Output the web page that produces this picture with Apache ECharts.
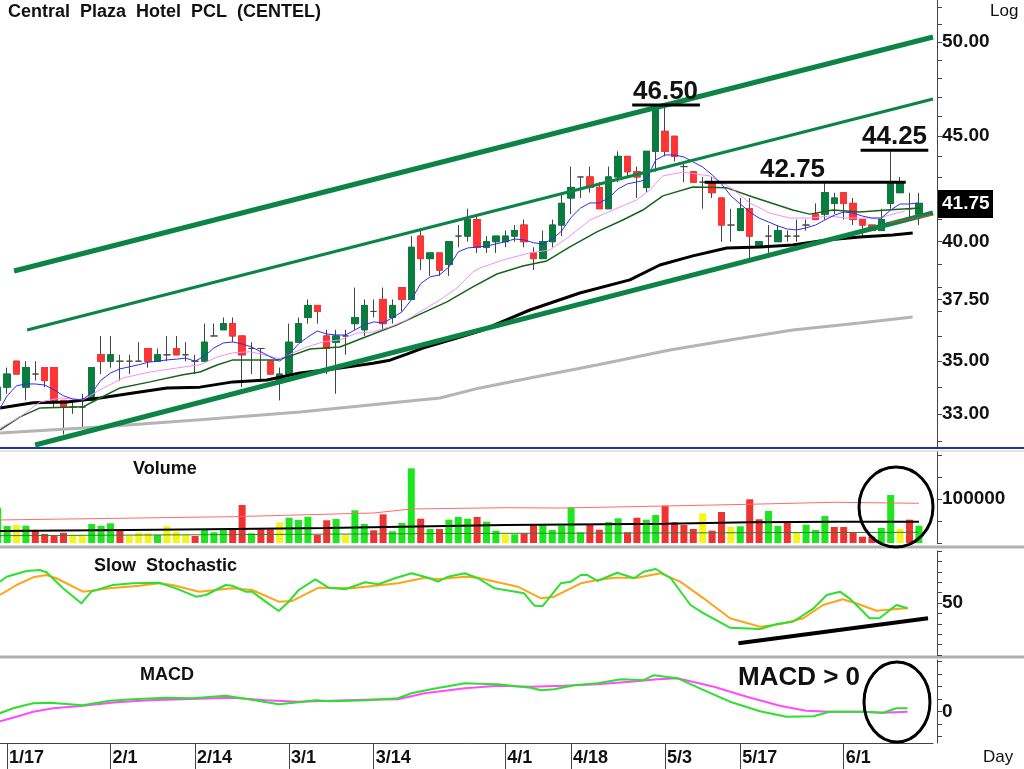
<!DOCTYPE html>
<html lang="en">
<head>
<meta charset="UTF-8">
<title>Central Plaza Hotel PCL (CENTEL)</title>
<style>
    html, body { margin: 0; padding: 0; background: #fff; }
    #chart { width: 1024px; height: 769px; }
</style>
</head>
<body>
<div id="chart"></div>
<script src="https://cdn.jsdelivr.net/npm/echarts/dist/echarts.min.js"></script>
<script>
    // daily candles (baht)
    var openP = [33.5, 34.0, 35.0, 34.0, 34.5, 34.75, 34.75, 33.5, 33.25, 33.25,
        33.5, 35.25, 35.0, 35.0, 35.0, 35.0, 35.5, 35.0, 35.25, 35.5,
        35.25, 35.0, 35.0, 36.0, 36.25, 36.5, 36.0, 35.5, 35.5, 35.0,
        34.25, 34.5, 35.75, 36.75, 37.25, 36.0, 35.75, 36.0, 36.5, 36.25,
        37.0, 37.5, 36.75, 38.0, 37.5, 40.25, 39.25, 39.5, 39.0, 40.25,
        40.25, 41.0, 39.75, 40.0, 40.0, 40.25, 40.75, 39.5, 39.25, 40.0,
        40.75, 42.0, 43.0, 43.0, 42.5, 41.5, 43.0, 44.0, 43.25, 42.5,
        44.25, 45.25, 45.0, 43.5, 43.25, 42.75, 42.75, 42.0, 40.75, 40.5,
        41.5, 39.75, 40.25, 40.0, 40.25, 40.25, 40.75, 41.25, 41.25, 41.75,
        42.25, 41.75, 41.0, 40.75, 40.5, 41.75, 42.25, 41.5, 41.25];
    var closeP = [34.0, 34.5, 34.5, 34.75, 34.5, 34.25, 33.5, 33.25, 33.25, 33.25,
        34.75, 35.0, 35.25, 35.0, 35.0, 35.0, 35.0, 35.25, 35.25, 35.25,
        35.25, 35.0, 35.75, 36.0, 36.5, 36.0, 35.25, 35.5, 35.5, 34.5,
        34.5, 35.75, 36.5, 37.25, 37.0, 35.5, 36.0, 36.0, 36.75, 37.25,
        37.0, 36.5, 37.25, 37.5, 39.75, 39.25, 39.5, 38.75, 40.0, 40.25,
        41.0, 39.75, 40.0, 40.25, 40.25, 40.5, 40.0, 39.25, 40.0, 40.75,
        41.75, 42.5, 43.0, 42.5, 41.5, 43.0, 44.0, 43.25, 43.0, 44.25,
        46.5, 44.25, 44.0, 43.5, 42.75, 42.75, 42.25, 40.75, 40.75, 41.5,
        40.25, 40.0, 40.25, 40.5, 40.25, 40.25, 40.75, 41.0, 42.25, 42.0,
        41.75, 41.0, 40.75, 40.5, 41.0, 42.75, 42.75, 41.5, 41.75];
    var lowP = [33.25, 33.75, 34.5, 33.5, 34.25, 34.0, 33.25, 32.25, 33.0, 32.5,
        33.5, 34.5, 34.75, 34.25, 34.5, 35.0, 34.75, 35.0, 35.0, 35.25,
        35.0, 34.5, 35.0, 36.0, 36.25, 35.75, 34.0, 34.5, 34.25, 34.5,
        33.5, 34.5, 35.75, 36.5, 36.5, 34.5, 33.75, 35.25, 36.25, 36.0,
        36.75, 36.25, 36.5, 37.0, 37.5, 38.75, 38.5, 38.5, 38.5, 39.75,
        40.0, 39.5, 39.5, 39.5, 39.75, 40.0, 39.75, 38.75, 39.25, 39.75,
        40.25, 41.25, 42.0, 42.25, 41.5, 41.5, 42.75, 43.0, 42.0, 42.25,
        43.25, 44.0, 43.75, 42.75, 42.75, 41.5, 42.0, 40.0, 40.0, 40.5,
        39.25, 39.75, 39.5, 40.0, 40.0, 40.0, 40.5, 41.0, 41.0, 41.25,
        41.0, 40.75, 40.25, 40.5, 40.5, 41.5, 42.25, 41.0, 40.75];
    var highP = [34.25, 34.75, 35.0, 35.0, 35.0, 34.75, 34.75, 33.5, 33.5, 33.75,
        34.75, 36.0, 36.0, 35.25, 35.25, 35.75, 35.5, 35.5, 36.0, 36.0,
        35.75, 35.25, 36.5, 36.5, 36.75, 36.75, 36.0, 35.75, 35.5, 35.0,
        34.75, 36.5, 36.75, 37.5, 37.25, 36.25, 36.25, 36.25, 38.0, 37.5,
        37.5, 38.0, 37.5, 38.0, 40.25, 40.5, 39.5, 39.5, 40.0, 40.75,
        41.5, 41.25, 40.25, 40.25, 40.5, 40.75, 41.0, 39.75, 40.5, 41.0,
        42.25, 43.5, 43.0, 43.5, 42.75, 43.5, 44.25, 44.0, 43.5, 44.25,
        46.5, 46.5, 45.0, 43.75, 43.25, 43.0, 43.0, 42.0, 41.5, 42.0,
        42.0, 40.0, 40.75, 40.75, 40.5, 41.0, 41.0, 41.75, 42.75, 42.25,
        42.25, 42.0, 41.0, 40.75, 41.5, 44.25, 43.0, 42.25, 42.25];

    var volume = [80000, 38600, 40900, 39300, 27300, 20500, 16600, 23400, 16600, 16600,
        43200, 39300, 44800, 27300, 15900, 23400, 22000, 18200, 38600, 25700,
        18200, 15900, 29500, 24300, 29500, 29500, 86400, 22000, 31100, 31100,
        47000, 57500, 52300, 59800, 18200, 51600, 54600, 18200, 74300, 43200,
        28900, 65200, 26600, 45500, 169800, 55200, 31800, 31800, 53000, 59100,
        55200, 59100, 48400, 28000, 19800, 19800, 22000, 40900, 43200, 29500,
        39300, 81100, 24300, 40900, 30200, 47700, 56100, 24300, 57500, 53000,
        63600, 84800, 47000, 40900, 31800, 67500, 28000, 70500, 36400, 38000,
        99300, 53900, 72700, 38600, 46100, 22700, 41600, 29500, 61400, 36400,
        36400, 23400, 14300, 14300, 34100, 109100, 31800, 53000, 39300];
    // g = up, r = down, y = unchanged
    var volKind = ('ggygrrrryy' + 'gggryyygyy' + 'yrgggrrgrr' + 'ygggrrgygg' + 'rrgggrgrgg' +
        'grggygrrgg' + 'gggrrggrrg' + 'grrrryrryg' + 'rrggrygggr' + 'rrrrggyrg').split('');

    // moving averages on the price panel
    var maBlue = [33.05, 33.67, 34.05, 34.12, 34.12, 34.08, 33.9, 33.67, 33.55, 33.52,
        33.78, 34.27, 34.54, 34.7, 34.78, 34.86, 34.96, 35.0, 35.05, 35.08,
        35.12, 35.0, 35.2, 35.52, 35.72, 35.76, 35.68, 35.56, 35.37, 35.17,
        35.0, 35.28, 35.68, 35.96, 36.2, 36.08, 36.04, 36.04, 36.24, 36.45,
        36.57, 36.53, 36.74, 36.98, 37.48, 38.17, 38.46, 38.54, 38.88, 39.55,
        39.72, 39.76, 39.8, 39.9, 40.0, 40.12, 40.08, 39.95, 39.9, 40.12,
        40.48, 41.1, 41.53, 41.77, 41.77, 42.0, 42.43, 42.67, 42.76, 42.86,
        43.82, 44.07, 44.07, 43.97, 43.72, 43.48, 43.1, 42.67, 42.1, 41.72,
        41.35, 41.07, 40.89, 40.71, 40.57, 40.53, 40.62, 40.75, 40.98, 41.2,
        41.35, 41.3, 41.16, 41.07, 41.07, 41.44, 41.72, 41.72, 41.77];
    var maPink = [[0.26, 32.48], [2.38, 32.89], [4.51, 33.44], [6.64, 33.59], [9.08, 33.52], [10.89, 33.9],
        [13.33, 34.35], [16.2, 34.58], [19.7, 34.77], [21.52, 34.86], [23.33, 35.16], [25.03, 35.33],
        [26.84, 35.37], [27.9, 35.29], [30.03, 35.09], [31.41, 35.33], [32.9, 35.56], [34.6, 35.76],
        [36.41, 35.84], [38.22, 36.12], [39.92, 36.16], [41.73, 36.37], [43.53, 36.65], [44.92, 36.98],
        [47.04, 37.48], [48.85, 37.98], [50.55, 38.67], [51.3, 38.84], [53.74, 39.19], [56.61, 39.5],
        [58.74, 39.63], [60.87, 40.25], [63.0, 40.98], [65.44, 41.44], [67.99, 41.91], [69.37, 42.38],
        [70.76, 43.05], [72.88, 43.23], [75.75, 43.05], [77.88, 42.52], [80.0, 41.77], [82.13, 41.3],
        [84.26, 41.07], [86.39, 41.07], [88.5, 41.16], [90.3, 41.07], [92.0, 41.07], [93.8, 41.07],
        [95.2, 41.25], [96.5, 41.39]];
    var maGreen = [[0.26, 32.41], [2.38, 32.89], [4.51, 33.22], [9.08, 33.26], [10.89, 33.59], [13.02, 33.97],
        [16.2, 34.2], [19.71, 34.47], [21.52, 34.58], [23.33, 34.85], [25.03, 35.05], [29.71, 35.05],
        [31.09, 35.2], [33.22, 35.48], [36.41, 35.56], [38.85, 35.92], [42.47, 36.45], [45.23, 36.94],
        [47.79, 37.4], [50.55, 38.03], [53.1, 38.58], [55.87, 38.93], [58.42, 39.15], [60.87, 39.77],
        [63.74, 40.44], [66.5, 40.98], [68.63, 41.44], [70.76, 42.1], [73.95, 42.52], [77.56, 42.48],
        [80.33, 42.05], [84.58, 41.44], [86.39, 41.25], [88.84, 41.44], [91.7, 41.35], [94.6, 41.44],
        [98.1, 41.53]];
    var maBlack = [[0.26, 33.22], [3.76, 33.41], [7.38, 33.44], [10.89, 33.59], [14.4, 33.78], [18.01, 33.97],
        [21.52, 34.0], [25.03, 34.2], [28.65, 34.27], [32.16, 34.54], [36.41, 34.73], [39.92, 34.92],
        [41.73, 35.04], [43.53, 35.28], [45.23, 35.52], [47.04, 35.72], [48.85, 35.92], [51.3, 36.2],
        [56.61, 37.06], [61.93, 37.77], [67.25, 38.33], [70.44, 38.97], [73.95, 39.37], [77.56, 39.72],
        [81.07, 39.76], [84.58, 39.85], [88.2, 40.08], [91.7, 40.21], [95.21, 40.3], [97.34, 40.39]];
    var maGrey = [[0.26, 32.3], [10.89, 32.52], [21.52, 32.78], [32.16, 33.07], [42.79, 33.44], [47.04, 33.59],
        [51.3, 33.97], [56.61, 34.35], [63.74, 34.85], [71.5, 35.44], [77.88, 35.84], [84.58, 36.24],
        [91.7, 36.53], [97.34, 36.77]];

    // hand-drawn trend channel (day index, price)
    var trendUpper = [[1.74, 38.71], [99.5, 50.28]];
    var trendMiddle = [[3.13, 36.24], [99.5, 46.91]];
    var trendLower = [[3.98, 31.87], [99.5, 41.31]];
    var trendRed = [[94.9, 40.85], [99.5, 41.22]];
    var levelPrice = [46.6, 42.75, 44.3];
    var levelFrom = [67.5, 75.2, 91.8];
    var levelTo = [74.7, 96.6, 99.0];

    // volume averages
    var volRed = [[0, 52300], [25, 59800], [40, 68200], [44, 77300], [54, 80200], [60, 79500],
        [71, 84100], [80, 88000], [89, 92500], [98, 90200]];
    var volBlack = [[0, 27300], [14, 29500], [25, 31800], [35, 34100], [43, 37000], [54, 40900],
        [71, 43900], [80, 47000], [89, 48400], [98, 48400]];
    var volGreen = [[0, 16600], [54, 22000], [98, 24300]];

    // slow stochastic
    var stochK = [[0.24, 70.5], [0.95, 75.3], [3.07, 80.8], [4.48, 81.7], [5.19, 79.5], [6.95, 64.1], [8.9, 49.7],
        [9.96, 60.9], [12.24, 67.3], [14.36, 68.9], [17.19, 69.5], [18.96, 64.1], [21.08, 56.1], [22.14, 57.7],
        [24.26, 67.3], [24.96, 66.6], [26.37, 60.9], [27.07, 60.9], [28.49, 51.3], [29.9, 42.3], [30.96, 51.3],
        [32.02, 62.5], [33.79, 72.8], [35.2, 64.7], [36.97, 63.2], [39.09, 69.9], [40.5, 68.0], [42.26, 73.8],
        [44.02, 78.6], [45.79, 74.3], [46.85, 70.5], [47.91, 75.3], [49.68, 78.6], [51.09, 73.8], [52.86, 64.1],
        [56.0, 59.3], [57.1, 47.4], [57.97, 47.1], [59.9, 68.9], [60.97, 70.5], [62.03, 76.9], [62.74, 76.9],
        [63.8, 71.2], [65.9, 79.1], [67.7, 73.8], [68.7, 80.1], [70.0, 82.7], [71.6, 73.8], [73.7, 48.1],
        [75.1, 40.1], [77.9, 26.3], [81.1, 25.0], [82.9, 29.8], [84.6, 32.0], [86.8, 44.9], [88.2, 57.7],
        [89.6, 60.9], [90.6, 54.5], [91.7, 44.9], [92.75, 35.3], [93.8, 35.3], [95.6, 48.1], [96.8, 44.9]];
    var stochD = [[0.24, 57.7], [2.01, 67.3], [3.77, 74.7], [5.19, 76.9], [6.25, 73.8], [9.07, 60.9], [11.9, 64.1],
        [15.07, 66.6], [17.19, 68.9], [18.6, 67.3], [21.43, 60.9], [24.96, 64.1], [27.07, 62.5], [29.9, 51.3],
        [31.3, 51.9], [34.14, 64.7], [37.67, 64.1], [40.85, 67.3], [42.6, 68.9], [45.44, 74.3], [46.85, 72.8],
        [49.68, 75.3], [51.09, 74.3], [53.2, 69.9], [55.33, 65.7], [57.8, 54.5], [59.2, 56.1], [62.03, 68.9],
        [63.8, 72.1], [65.6, 74.3], [68.0, 74.3], [70.5, 78.6], [72.6, 70.5], [75.1, 54.5], [77.9, 35.3],
        [81.1, 27.2], [83.2, 29.5], [85.7, 35.3], [87.8, 48.1], [89.9, 53.6], [91.3, 49.7], [93.5, 42.6],
        [95.6, 44.2], [96.8, 44.9]];
    var stochTrend = [[78.8, 11.25], [98.97, 35.3]];

    // MACD
    var macdLine = [[0.24, -0.03], [1.65, 0.07], [3.77, 0.17], [5.54, 0.18], [9.07, 0.13], [11.9, 0.22],
        [14.36, 0.25], [17.9, 0.28], [20.7, 0.27], [24.26, 0.32], [26.7, 0.25], [29.9, 0.15], [32.0, 0.19],
        [33.8, 0.23], [35.5, 0.21], [39.1, 0.23], [42.6, 0.27], [44.0, 0.37], [46.1, 0.45], [49.7, 0.57],
        [51.1, 0.56], [53.2, 0.55], [56.7, 0.48], [57.8, 0.43], [59.2, 0.45], [61.3, 0.53], [63.8, 0.57],
        [66.3, 0.65], [68.7, 0.63], [69.8, 0.73], [72.3, 0.67], [75.1, 0.43], [77.9, 0.20], [81.1, 0.01],
        [83.9, -0.10], [86.8, -0.09], [88.5, 0], [92.0, 0], [94.2, -0.02], [95.6, 0.07], [96.8, 0.07]];
    var macdSignal = [[0.24, -0.19], [2.0, -0.10], [3.77, 0], [5.9, 0.07], [9.07, 0.12], [12.6, 0.19],
        [16.1, 0.23], [19.7, 0.25], [23.2, 0.27], [24.96, 0.28], [28.5, 0.23], [32.0, 0.20], [35.5, 0.22],
        [39.1, 0.24], [42.6, 0.25], [45.4, 0.37], [49.7, 0.47], [53.2, 0.52], [56.7, 0.50], [60.3, 0.52],
        [63.8, 0.55], [67.3, 0.60], [70.2, 0.65], [72.3, 0.67], [76.2, 0.50], [79.7, 0.30], [83.2, 0.12],
        [86.0, 0.02], [88.5, 0], [92.0, 0], [94.2, -0.02], [96.8, 0]];

    // axis ticks
    var priceTicks = [33, 35, 37.5, 40, 45, 50];
    var priceMinor = [32, 33, 34, 35, 36, 37, 37.5, 38, 39, 40, 41, 42, 43, 44, 45, 46, 47, 48, 49, 50, 51, 52];
    var tickDays = [1, 12, 21, 31, 40, 54, 61, 71, 79, 90];
    var tickLabels = ['1/17', '2/1', '2/14', '3/1', '3/14', '4/1', '4/18', '5/3', '5/17', '6/1'];

    var FONT = '"Liberation Sans", Arial, sans-serif';
    var ln = Math.log;
    function logPairs(list) {
        return list.map(function (d) { return [d[0], ln(d[1])]; });
    }

    var days = closeP.map(function (v, i) { return String(i); });
    days.push(String(closeP.length)); // empty slot on the right
    var xMax = days.length - 0.5;

    var wickData = openP.map(function (o, i) {
        return [ln(o), ln(closeP[i]), ln(lowP[i]), ln(highP[i])];
    });
    var bodyData = openP.map(function (o, i) {
        var c = closeP[i];
        var v = [ln(o), ln(c), ln(Math.min(o, c)), ln(Math.max(o, c))];
        if (o === c) {
            return {value: v, itemStyle: {opacity: 0}};
        }
        return v;
    });
    var volColors = {g: '#1ee61e', r: '#f03232', y: '#f5f51a'};
    var volData = volume.map(function (v, i) {
        return {value: v, itemStyle: {color: volColors[volKind[i]]}};
    });

    function line(data, xi, yi, color, width, z) {
        return {
            type: 'line', xAxisIndex: xi, yAxisIndex: yi, data: data,
            symbol: 'none', silent: true, z: z || 3,
            lineStyle: {color: color, width: width}
        };
    }

    var levelSeries = levelPrice.map(function (p, k) {
        return line([[levelFrom[k], ln(p)], [levelTo[k], ln(p)]], 1, 0, '#000', 3, 5);
    });

    var labelStyle = {fontFamily: FONT, fontWeight: 'bold', fontSize: 19, color: '#111', margin: 5};
    var axisLineStyle = {show: true, onZero: false, lineStyle: {color: '#444', width: 1}};
    function tickStyle(values) {
        return {show: true, customValues: values, length: 5, lineStyle: {color: '#444'}};
    }
    function hiddenValueX(grid) {
        return {type: 'value', gridIndex: grid, min: -0.5, max: xMax, show: false};
    }
    function range(a, b, step) {
        var out = [];
        for (var v = a; v <= b + 1e-9; v += step) out.push(v);
        return out;
    }
    function isTickDay(index) { return tickDays.indexOf(index) >= 0; }
    function panel(top, height) {
        return {left: -7, right: 91, top: top, height: height, outerBoundsMode: 'none', containLabel: false};
    }

    var chart = echarts.init(document.getElementById('chart'));
    var option = {
        animation: false,
        backgroundColor: '#fff',
        grid: [panel(0, 447), panel(452, 91), panel(551, 104), panel(660, 83)],
        xAxis: [
            {type: 'category', gridIndex: 0, data: days, show: false},
            hiddenValueX(0),
            {type: 'category', gridIndex: 1, data: days, show: false},
            hiddenValueX(1),
            hiddenValueX(2),
            {
                type: 'category', gridIndex: 3, data: days,
                axisLine: {show: true, onZero: false, lineStyle: {color: '#444'}},
                axisTick: {show: true, alignWithLabel: true, interval: isTickDay, length: 26,
                    lineStyle: {color: '#444'}},
                axisLabel: {
                    interval: isTickDay, align: 'left', margin: 6, padding: [0, 0, 0, 2],
                    fontFamily: FONT, fontWeight: 'bold', fontSize: 18, color: '#111',
                    formatter: function (v, i) { return tickLabels[tickDays.indexOf(i)]; }
                },
                splitLine: {show: false}
            },
            hiddenValueX(3)
        ],
        yAxis: [
            {
                type: 'value', gridIndex: 0, position: 'right', offset: 4,
                min: ln(31.8), max: ln(52.4),
                axisLine: axisLineStyle,
                axisTick: tickStyle(priceMinor.map(ln)),
                axisLabel: Object.assign({}, labelStyle, {
                    customValues: priceTicks.map(ln),
                    formatter: function (v) { return Math.exp(v).toFixed(2); }
                }),
                splitLine: {show: false}
            },
            {
                type: 'value', gridIndex: 1, position: 'right', offset: 4, min: 0, max: 206800,
                axisLine: axisLineStyle,
                axisTick: tickStyle([0, 50000, 100000, 150000, 200000]),
                axisLabel: Object.assign({}, labelStyle, {
                    customValues: [100000],
                    formatter: function (v) { return String(v); }
                }),
                splitLine: {show: false}
            },
            {
                type: 'value', gridIndex: 2, position: 'right', offset: 4, min: 0, max: 100,
                axisLine: axisLineStyle,
                axisTick: tickStyle(range(0, 100, 10)),
                axisLabel: Object.assign({}, labelStyle, {customValues: [50]}),
                splitLine: {show: false}
            },
            {
                type: 'value', gridIndex: 3, position: 'right', offset: 4, min: -0.626, max: 1.034,
                axisLine: axisLineStyle,
                axisTick: tickStyle(range(-0.5, 1, 0.25)),
                axisLabel: Object.assign({}, labelStyle, {
                    customValues: [0],
                    formatter: function (v) { return String(Math.round(v)); }
                }),
                splitLine: {show: false}
            }
        ],
        series: [
            {
                type: 'candlestick', xAxisIndex: 0, yAxisIndex: 0, data: wickData, barWidth: 7, silent: true,
                itemStyle: {color: '#444', color0: '#444', borderColor: '#444', borderColor0: '#444', borderWidth: 1}
            },
            {
                type: 'candlestick', xAxisIndex: 0, yAxisIndex: 0, data: bodyData, barWidth: 7, silent: true,
                itemStyle: {color: '#0a7d3e', color0: '#ff3434', borderColor: '#0a7d3e',
                    borderColor0: '#ff3434', borderWidth: 1}
            },
            line(logPairs(maGrey), 1, 0, '#b4b4b4', 3),
            line(logPairs(maBlack), 1, 0, '#000', 3),
            line(logPairs(maGreen), 1, 0, '#17631a', 1.5),
            line(logPairs(maPink), 1, 0, '#f290f2', 1),
            line(maBlue.map(ln), 0, 0, '#2d2df5', 1),
            line(logPairs(trendUpper), 1, 0, '#0c8446', 5, 4),
            line(logPairs(trendMiddle), 1, 0, '#0c8446', 3, 4),
            line(logPairs(trendLower), 1, 0, '#0c8446', 5, 4),
            line(logPairs(trendRed), 1, 0, '#e83c3c', 1, 4)
        ].concat(levelSeries).concat([
            {type: 'bar', xAxisIndex: 2, yAxisIndex: 1, data: volData, barWidth: 7, silent: true},
            line(volRed, 3, 1, '#ff6a6a', 1),
            line(volBlack, 3, 1, '#000', 2),
            line(volGreen, 3, 1, '#2e7d2e', 1),
            line(stochD, 4, 2, '#ffa31a', 2),
            line(stochK, 4, 2, '#2ee02e', 2),
            line(stochTrend, 4, 2, '#000', 4),
            line(macdSignal, 6, 3, '#ff4cff', 2),
            line(macdLine, 6, 3, '#2ee02e', 2)
        ]),
        graphic: [
            {type: 'line', shape: {x1: 0, y1: 448, x2: 1024, y2: 448}, style: {stroke: '#2232a6', lineWidth: 2}},
            {type: 'line', shape: {x1: 0, y1: 451, x2: 1024, y2: 451}, style: {stroke: '#c8c8c8', lineWidth: 1}},
            {type: 'line', shape: {x1: 0, y1: 547, x2: 1024, y2: 547}, style: {stroke: '#b0b0b0', lineWidth: 3}},
            {type: 'line', shape: {x1: 0, y1: 657, x2: 1024, y2: 657}, style: {stroke: '#b0b0b0', lineWidth: 3}},
            {type: 'text', x: 8, y: 12, z: 100, style: {text: 'Central  Plaza  Hotel  PCL  (CENTEL)',
                font: 'bold 18px ' + FONT, fill: '#111', verticalAlign: 'middle'}},
            {type: 'text', x: 990, y: 11, z: 100, style: {text: 'Log', font: '17px ' + FONT, fill: '#111',
                verticalAlign: 'middle'}},
            {type: 'text', x: 133, y: 469, z: 100, style: {text: 'Volume', font: 'bold 18px ' + FONT,
                fill: '#111', verticalAlign: 'middle'}},
            {type: 'text', x: 94, y: 566, z: 100, style: {text: 'Slow  Stochastic', font: 'bold 18px ' + FONT,
                fill: '#111', verticalAlign: 'middle'}},
            {type: 'text', x: 140, y: 675, z: 100, style: {text: 'MACD', font: 'bold 18px ' + FONT,
                fill: '#111', verticalAlign: 'middle'}},
            {type: 'text', x: 633, y: 92, z: 100, style: {text: '46.50', font: 'bold 26px ' + FONT,
                fill: '#111', verticalAlign: 'middle'}},
            {type: 'text', x: 760, y: 170, z: 100, style: {text: '42.75', font: 'bold 26px ' + FONT,
                fill: '#111', verticalAlign: 'middle'}},
            {type: 'text', x: 862, y: 137, z: 100, style: {text: '44.25', font: 'bold 26px ' + FONT,
                fill: '#111', verticalAlign: 'middle'}},
            {type: 'text', x: 738, y: 678, z: 100, style: {text: 'MACD > 0', font: 'bold 26px ' + FONT,
                fill: '#111', verticalAlign: 'middle'}},
            {type: 'text', x: 983, y: 757, z: 100, style: {text: 'Day', font: '17px ' + FONT, fill: '#111',
                verticalAlign: 'middle'}},
            {type: 'rect', z: 100, shape: {x: 938, y: 190, width: 55, height: 28}, style: {fill: '#000'}},
            {type: 'text', x: 942, y: 204, z: 101, style: {text: '41.75', font: 'bold 19px ' + FONT,
                fill: '#fff', verticalAlign: 'middle'}},
            {type: 'ellipse', z: 100, shape: {cx: 896, cy: 507, rx: 37, ry: 40},
                style: {stroke: '#000', lineWidth: 3, fill: 'none'}},
            {type: 'ellipse', z: 100, shape: {cx: 897, cy: 702, rx: 33, ry: 40},
                style: {stroke: '#000', lineWidth: 3, fill: 'none'}}
        ]
    };
    chart.setOption(option);
</script>
</body>
</html>
